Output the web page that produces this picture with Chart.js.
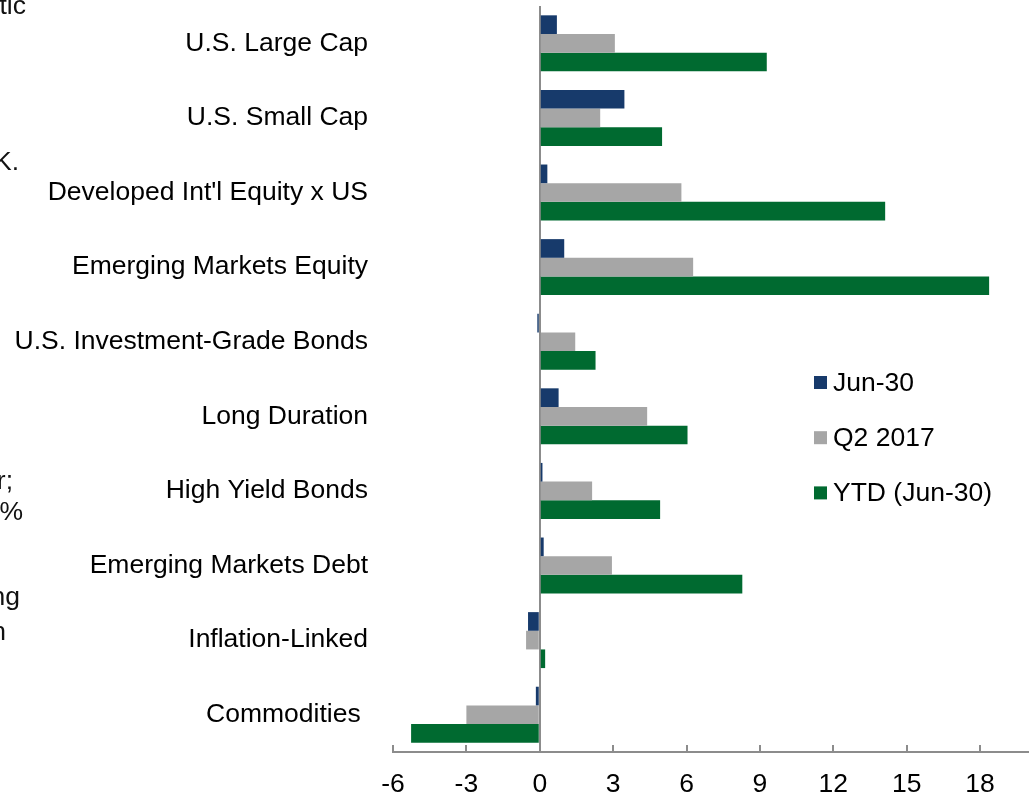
<!DOCTYPE html>
<html>
<head>
<meta charset="utf-8">
<script src="https://cdn.jsdelivr.net/npm/chart.js@4.4.1/dist/chart.umd.min.js"></script>
<style>
    html, body { margin: 0; padding: 0; background: #fff; overflow: hidden; }
    #chartDiv { width: 1029px; height: 795px; }
</style>
</head>
<body>
<div id="chartDiv"><canvas id="returnsChart" width="1029" height="795"></canvas></div>
<script>
const categories = [
    "U.S. Large Cap",
    "U.S. Small Cap",
    "Developed Int'l Equity x US",
    "Emerging Markets Equity",
    "U.S. Investment-Grade Bonds",
    "Long Duration",
    "High Yield Bonds",
    "Emerging Markets Debt",
    "Inflation-Linked",
    "Commodities ",
];
const seriesNames = ["Jun-30", "Q2 2017", "YTD (Jun-30)"];
const jun30 = [0.70, 3.46, 0.31, 1.00, -0.10, 0.77, 0.11, 0.16, -0.48, -0.16];
const q22017 = [3.07, 2.47, 5.79, 6.27, 1.45, 4.39, 2.14, 2.95, -0.56, -3.00];
const ytdJun30 = [9.28, 5.00, 14.12, 18.37, 2.28, 6.04, 4.92, 8.28, 0.22, -5.26];
const xTicks = [-6, -3, 0, 3, 6, 9, 12, 15, 18];

// cut-off text from the slide on the left
const sideNotes = ["tic", "K.", "r;", "%", "ng", "n"];
const sideNoteRight = [26, 19, 13, 23, 20, 6];
const sideNoteBaseline = [14, 170, 489, 520, 605, 640];

const colorScheme = ["#173a6b", "#a6a6a6", "#006a30"];
const fontFamily = "'Liberation Sans', Arial, sans-serif";
const fontSize = 26.5;

Chart.defaults.font.family = fontFamily;
Chart.defaults.font.size = fontSize;
Chart.defaults.color = "#000";

const insideLegend = {
    id: "insideLegend",
    afterDraw: (chart) => {
        const ctx = chart.ctx;
        ctx.save();
        ctx.font = fontSize + "px " + fontFamily;
        ctx.textAlign = "left";
        ctx.textBaseline = "alphabetic";
        chart.data.datasets.forEach((ds, i) => {
            const baseline = 391 + i * 55.2;
            ctx.fillStyle = ds.backgroundColor;
            ctx.fillRect(814, baseline - 15, 13, 13);
            ctx.fillStyle = "#000";
            ctx.fillText(ds.label, 833, baseline);
        });
        ctx.restore();
    },
};

const sideText = {
    id: "sideText",
    afterDraw: (chart) => {
        const ctx = chart.ctx;
        ctx.save();
        ctx.font = fontSize + "px " + fontFamily;
        ctx.textAlign = "right";
        ctx.textBaseline = "alphabetic";
        ctx.fillStyle = "#111";
        sideNotes.forEach((txt, i) => {
            ctx.fillText(txt, sideNoteRight[i], sideNoteBaseline[i]);
        });
        ctx.restore();
    },
};

const makeDatasets = () => {
    const values = [jun30, q22017, ytdJun30];
    return seriesNames.map((name, i) => ({
        label: name,
        data: values[i],
        backgroundColor: colorScheme[i],
        borderWidth: 0,
        categoryPercentage: 0.75,
        barPercentage: 1.0,
    }));
};

const ctx = document.getElementById("returnsChart").getContext("2d");
const myChart = new Chart(ctx, {
    type: "bar",
    data: {
        labels: categories,
        datasets: makeDatasets(),
    },
    options: {
        indexAxis: "y",
        responsive: false,
        animation: false,
        layout: { padding: { top: 6, right: 0, bottom: 0, left: 0 } },
        plugins: {
            legend: { display: false },
            tooltip: { enabled: false },
        },
        scales: {
            x: {
                min: -6,
                max: 20,
                afterBuildTicks: (axis) => {
                    axis.ticks = xTicks.map((v) => ({ value: v }));
                },
                afterFit: (axis) => {
                    axis.height = 43;
                    axis.paddingLeft = 0;
                    axis.paddingRight = 0;
                },
                border: { display: true, color: "#8c8c8c", width: 2 },
                grid: {
                    color: (c) => (c.tick && c.tick.value === 0 ? "#8c8c8c" : "rgba(0,0,0,0)"),
                    lineWidth: 2,
                    drawTicks: true,
                    tickLength: -7,
                    tickColor: "#8c8c8c",
                    tickWidth: 2,
                },
                ticks: {
                    color: "#000",
                    padding: 24,
                    maxRotation: 0,
                    autoSkip: false,
                },
            },
            y: {
                afterFit: (axis) => {
                    axis.width = 393;
                    axis.paddingTop = 0;
                    axis.paddingBottom = 0;
                },
                grid: { display: false, drawTicks: false },
                border: { display: false },
                ticks: {
                    color: "#000",
                    padding: 25,
                    autoSkip: false,
                },
            },
        },
    },
    plugins: [insideLegend, sideText],
});
</script>
</body>
</html>
